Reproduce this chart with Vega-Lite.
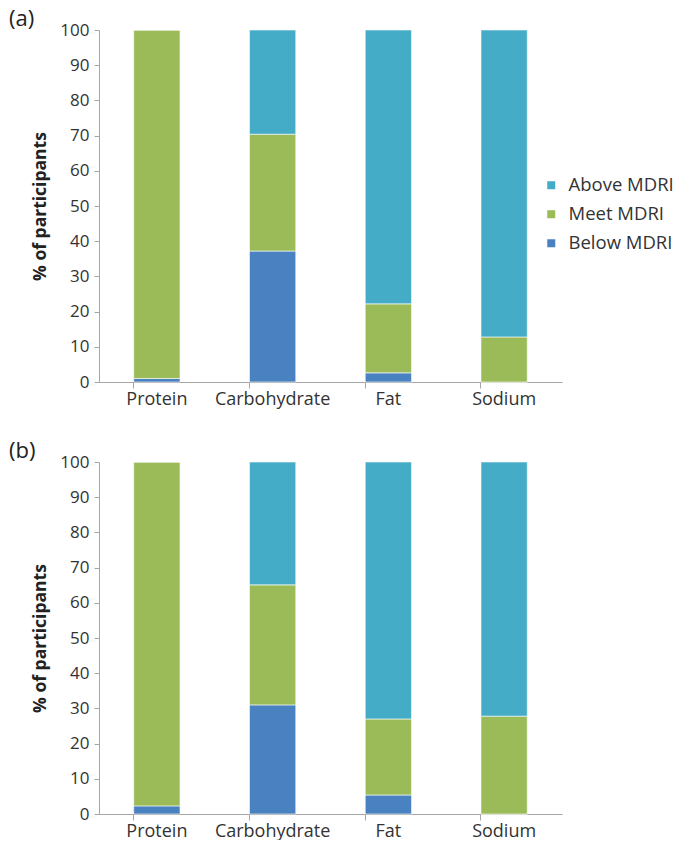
{
  "$schema": "https://vega.github.io/schema/vega-lite/v6.json",
  "background": "white",
  "padding": {"left": 9, "top": 8, "right": 5, "bottom": 0},
  "spacing": 32,
  "config": {
    "view": {"stroke": null},
    "font": "Open Sans",
    "axis": {
      "labelFont": "Open Sans", "titleFont": "Open Sans",
      "labelFontSize": 17, "labelColor": "#333333",
      "domainColor": "#A6A6A6", "tickColor": "#A6A6A6",
      "titleFontSize": 17.5, "titleColor": "#222222", "titleFontWeight": "bold"
    },
    "legend": {"labelFont": "Open Sans", "labelFontSize": 18.5, "labelColor": "#333333"},
    "title": {"font": "Open Sans", "fontSize": 22, "fontWeight": "normal", "color": "#222222", "anchor": "start", "frame": "group"}
  },
  "datasets": {
    "a": [
      {"nutrient": "Protein", "status": "Below MDRI", "level": 1, "value": 1.0},
      {"nutrient": "Protein", "status": "Meet MDRI", "level": 2, "value": 99.0},
      {"nutrient": "Protein", "status": "Above MDRI", "level": 3, "value": 0},
      {"nutrient": "Carbohydrate", "status": "Below MDRI", "level": 1, "value": 37.2},
      {"nutrient": "Carbohydrate", "status": "Meet MDRI", "level": 2, "value": 33.2},
      {"nutrient": "Carbohydrate", "status": "Above MDRI", "level": 3, "value": 29.6},
      {"nutrient": "Fat", "status": "Below MDRI", "level": 1, "value": 2.6},
      {"nutrient": "Fat", "status": "Meet MDRI", "level": 2, "value": 19.6},
      {"nutrient": "Fat", "status": "Above MDRI", "level": 3, "value": 77.8},
      {"nutrient": "Sodium", "status": "Below MDRI", "level": 1, "value": 0},
      {"nutrient": "Sodium", "status": "Meet MDRI", "level": 2, "value": 12.8},
      {"nutrient": "Sodium", "status": "Above MDRI", "level": 3, "value": 87.2}
    ],
    "b": [
      {"nutrient": "Protein", "status": "Below MDRI", "level": 1, "value": 2.3},
      {"nutrient": "Protein", "status": "Meet MDRI", "level": 2, "value": 97.7},
      {"nutrient": "Protein", "status": "Above MDRI", "level": 3, "value": 0},
      {"nutrient": "Carbohydrate", "status": "Below MDRI", "level": 1, "value": 31.0},
      {"nutrient": "Carbohydrate", "status": "Meet MDRI", "level": 2, "value": 34.1},
      {"nutrient": "Carbohydrate", "status": "Above MDRI", "level": 3, "value": 34.9},
      {"nutrient": "Fat", "status": "Below MDRI", "level": 1, "value": 5.4},
      {"nutrient": "Fat", "status": "Meet MDRI", "level": 2, "value": 21.6},
      {"nutrient": "Fat", "status": "Above MDRI", "level": 3, "value": 73.0},
      {"nutrient": "Sodium", "status": "Below MDRI", "level": 1, "value": 0},
      {"nutrient": "Sodium", "status": "Meet MDRI", "level": 2, "value": 27.8},
      {"nutrient": "Sodium", "status": "Above MDRI", "level": 3, "value": 72.2}
    ]
  },
  "vconcat": [
    {
      "data": {"name": "a"},
      "title": {"text": "(a)", "dx": -90, "dy": 14},
      "width": 463, "height": 352,
      "mark": {"type": "bar", "stroke": "#ffffff", "strokeWidth": 0.6},
      "encoding": {
        "x": {"field": "nutrient", "type": "nominal", "sort": ["Protein", "Carbohydrate", "Fat", "Sodium"],
              "scale": {"paddingInner": 0.6, "paddingOuter": 0.3},
              "axis": {"title": null, "labelAngle": 0, "bandPosition": 0, "tickSize": 6, "labelPadding": 2, "labelFontSize": 18}},
        "y": {"field": "value", "type": "quantitative", "stack": "zero",
              "scale": {"domain": [0, 100], "nice": false},
              "axis": {"title": "% of participants", "values": [0,10,20,30,40,50,60,70,80,90,100], "grid": false, "tickSize": 5, "labelPadding": 5, "titlePadding": 10}},
        "color": {"field": "status", "type": "nominal",
                  "scale": {"domain": ["Above MDRI", "Meet MDRI", "Below MDRI"], "range": ["#44ACC6", "#9BBB59", "#4A81C0"]},
                  "legend": {"title": null, "orient": "none", "legendX": 443, "legendY": 146, "symbolType": "square", "symbolSize": 64, "rowPadding": 10, "labelOffset": 8, "symbolStrokeWidth": 0}},
        "order": {"field": "level", "sort": "ascending"}
      }
    },
    {
      "data": {"name": "b"},
      "title": {"text": "(b)", "dx": -90, "dy": 14},
      "width": 463, "height": 352,
      "mark": {"type": "bar", "stroke": "#ffffff", "strokeWidth": 0.6},
      "encoding": {
        "x": {"field": "nutrient", "type": "nominal", "sort": ["Protein", "Carbohydrate", "Fat", "Sodium"],
              "scale": {"paddingInner": 0.6, "paddingOuter": 0.3},
              "axis": {"title": null, "labelAngle": 0, "bandPosition": 0, "tickSize": 6, "labelPadding": 2, "labelFontSize": 18}},
        "y": {"field": "value", "type": "quantitative", "stack": "zero",
              "scale": {"domain": [0, 100], "nice": false},
              "axis": {"title": "% of participants", "values": [0,10,20,30,40,50,60,70,80,90,100], "grid": false, "tickSize": 5, "labelPadding": 5, "titlePadding": 10}},
        "color": {"field": "status", "type": "nominal",
                  "scale": {"domain": ["Above MDRI", "Meet MDRI", "Below MDRI"], "range": ["#44ACC6", "#9BBB59", "#4A81C0"]},
                  "legend": {"title": null, "orient": "none", "legendX": 443, "legendY": 146, "symbolType": "square", "symbolSize": 64, "rowPadding": 10, "labelOffset": 8, "symbolStrokeWidth": 0}},
        "order": {"field": "level", "sort": "ascending"}
      }
    }
  ]
}
